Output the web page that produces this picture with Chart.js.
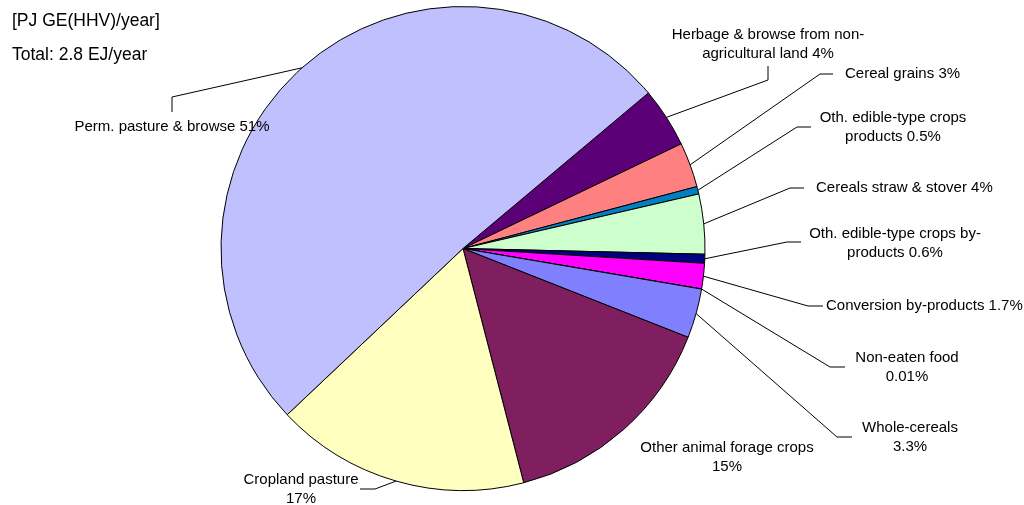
<!DOCTYPE html>
<html>
<head>
<meta charset="utf-8">
<script src="https://cdn.jsdelivr.net/npm/chart.js@4"></script>
<style>
  html, body { margin: 0; padding: 0; background: #fff; }
  #wrap { position: relative; width: 1024px; height: 505px; }
</style>
</head>
<body>
<div id="wrap"><canvas id="pie" width="1024" height="505"></canvas></div>
<script>
// Data (clockwise, starting after the big pasture slice)
const categories = [
  "Herbage & browse from non-agricultural land",
  "Cereal grains",
  "Oth. edible-type crops products",
  "Cereals straw & stover",
  "Oth. edible-type crops by-products",
  "Conversion by-products",
  "Non-eaten food",
  "Whole-cereals",
  "Other animal forage crops",
  "Cropland pasture",
  "Perm. pasture & browse",
];
const shares = [4, 3, 0.5, 4, 0.6, 1.7, 0.01, 3.3, 15, 17, 51];
const shareLabels = ["4%", "3%", "0.5%", "4%", "0.6%", "1.7%", "0.01%", "3.3%", "15%", "17%", "51%"];

// how each label wraps (text only)
const labelLines = [
  ["Herbage & browse from non-", "agricultural land 4%"],
  ["Cereal grains 3%"],
  ["Oth. edible-type crops", "products 0.5%"],
  ["Cereals straw & stover 4%"],
  ["Oth. edible-type crops by-", "products 0.6%"],
  ["Conversion by-products 1.7%"],
  ["Non-eaten food", "0.01%"],
  ["Whole-cereals", "3.3%"],
  ["Other animal forage crops", "15%"],
  ["Cropland pasture", "17%"],
  ["Perm. pasture & browse 51%"],
];

const sliceColors = [
  "#5c0078", "#ff8080", "#0080c0", "#ccffcc", "#000080", "#ff00ff",
  "#993366", "#8080ff", "#7f1f5f", "#ffffc0", "#c0c0ff",
];

// Label placement: text anchor, alignment, leader elbow + end
const labelLayout = [
  { x: 768, y: 35, align: "center", elbow: [768, 80], end: [768, 66] },
  { x: 845, y: 74, align: "left", elbow: [820, 74], end: [833, 74] },
  { x: 893, y: 118, align: "center", elbow: [797, 127], end: [811, 127] },
  { x: 816, y: 188, align: "left", elbow: [790, 188], end: [804, 188] },
  { x: 895, y: 234, align: "center", elbow: [787, 242], end: [801, 242] },
  { x: 826, y: 306, align: "left", elbow: [808, 306], end: [823, 306] },
  { x: 907, y: 358, align: "center", elbow: [830, 367], end: [845, 367] },
  { x: 910, y: 428, align: "center", elbow: [837, 437], end: [852, 437] },
  { x: 727, y: 448, align: "center" },
  { x: 301, y: 480, align: "center", elbow: [375, 489], end: [360, 489] },
  { x: 172, y: 127, align: "center", elbow: [172, 97], end: [172, 112] },
];

const FONT = '"Liberation Sans", Arial, sans-serif';

// Draws leader lines from each slice's outer midpoint and the labels
const pieLabels = {
  id: "pieLabels",
  afterDraw(chart) {
    const ctx = chart.ctx;
    const arcs = chart.getDatasetMeta(0).data;
    ctx.save();
    ctx.strokeStyle = "#000";
    ctx.lineWidth = 1;
    ctx.fillStyle = "#000";
    ctx.font = "15px " + FONT;
    ctx.textBaseline = "middle";

    arcs.forEach((arc, i) => {
      const lay = labelLayout[i];
      if (lay.elbow) {
        const mid = (arc.startAngle + arc.endAngle) / 2;
        const sx = arc.x + Math.cos(mid) * arc.outerRadius;
        const sy = arc.y + Math.sin(mid) * arc.outerRadius;
        ctx.beginPath();
        ctx.moveTo(sx, sy);
        ctx.lineTo(lay.elbow[0], lay.elbow[1]);
        ctx.lineTo(lay.end[0], lay.end[1]);
        ctx.stroke();
      }
      ctx.textAlign = lay.align;
      labelLines[i].forEach((line, k) => {
        ctx.fillText(line, lay.x, lay.y + k * 18.5);
      });
    });

    // units / total note
    ctx.textAlign = "left";
    ctx.font = "17.5px " + FONT;
    ctx.fillText("[PJ GE(HHV)/year]", 12, 21);
    ctx.fillText("Total: 2.8 EJ/year", 12, 55);
    ctx.restore();
  },
};

new Chart(document.getElementById("pie"), {
  type: "pie",
  data: {
    labels: categories,
    datasets: [
      {
        data: shares,
        backgroundColor: sliceColors,
        borderColor: "#000",
        borderWidth: 1,
      },
    ],
  },
  options: {
    responsive: false,
    animation: false,
    rotation: 50,
    layout: { padding: { left: 220, top: 6, right: 318, bottom: 14 } },
    plugins: {
      legend: { display: false },
      tooltip: { enabled: false },
    },
  },
  plugins: [pieLabels],
});
</script>
</body>
</html>
